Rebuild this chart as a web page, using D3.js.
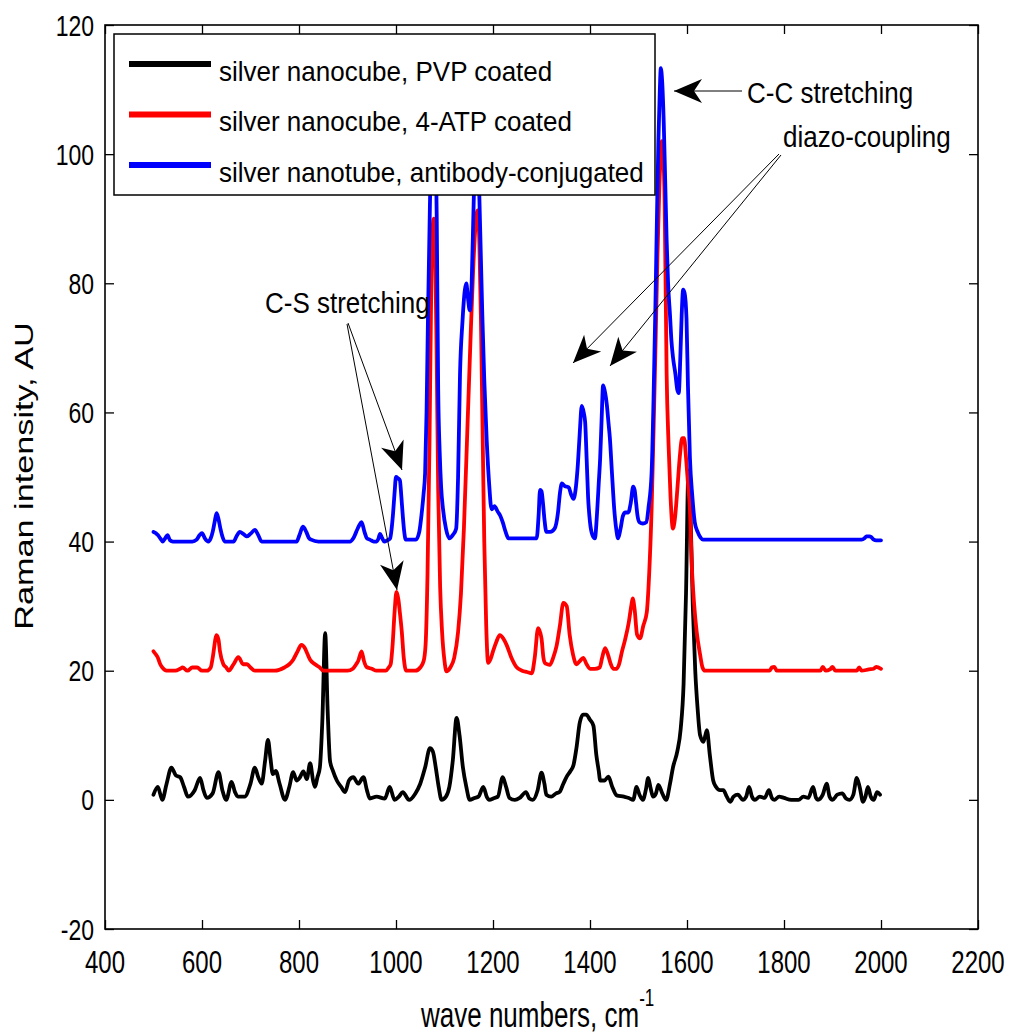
<!DOCTYPE html>
<html>
<head>
<meta charset="utf-8">
<script src="https://cdn.jsdelivr.net/npm/d3@7"></script>
<style>
  html, body { margin: 0; padding: 0; background: #fff; }
  svg { display: block; }
  text { font-family: "Liberation Sans", Arial, sans-serif; fill: #000; }
</style>
</head>
<body>
<svg id="chart" width="1011" height="1034"></svg>
<script>
// Raman spectra: [wave number (cm^-1), intensity (AU)]
const pvpCoated = [
  [500,0.8],[509,2],[518,0],[527,2.5],[537,5],[546,3.8],[555,3.5],[563,2],[571,0.5],[585,1.5],[596,3.4],[603,1.5],[610,0.3],[622,1],[634,4.3],[642,1.5],[650,0],[661,2.8],[668,1.2],[674,0.5],[688,0.5],[700,2.5],[709,5],[716,3.5],[723,2.5],[730,6],[736,9.3],[741,6.5],[746,4],[752,4.5],[760,2.5],[771,0],[780,2],[788,4.3],[795,3],[802,3.5],[809,4.4],[816,3.2],[823,5.7],[829,3],[833,2],[838,3.5],[843,5],[848,12],[854,25.8],[859,14],[864,6],[870,4.5],[878,3],[887,2],[895,1.2],[903,3],[912,3.5],[922,2.5],[933,3.5],[940,1.5],[946,0.2],[960,0.5],[977,0.2],[987,2],[997,0],[1006,0.5],[1014,1.2],[1027,0],[1040,1],[1050,2.5],[1060,5],[1070,8],[1076,7.5],[1082,5],[1088,2],[1094,0],[1103,0.5],[1110,2],[1117,6],[1125,12.7],[1131,10],[1138,5],[1145,2],[1152,0],[1162,0.3],[1170,0.5],[1180,2],[1187,0.5],[1192,0],[1203,0.3],[1210,0.5],[1220,3.5],[1227,2],[1234,0.3],[1245,0],[1255,0.3],[1268,1.2],[1275,0.2],[1282,0],[1292,1.5],[1300,4.2],[1306,2.5],[1310,0.8],[1320,0.5],[1330,1],[1337,1.2],[1345,2.5],[1352,3.6],[1360,4.5],[1366,5.4],[1372,8],[1379,12],[1386,13.2],[1392,13.2],[1400,12.4],[1407,11.5],[1413,7],[1418,4.5],[1421,3],[1430,3],[1438,3.6],[1446,2],[1455,0.7],[1470,0.5],[1480,0.3],[1489,0],[1496,2],[1502,0.8],[1509,0],[1515,1.5],[1520,3.4],[1525,1.8],[1530,0.5],[1536,1],[1541,2.3],[1549,1],[1557,0],[1565,2.5],[1571,5],[1580,7.5],[1587,11],[1593,18],[1598,32],[1603,51],[1607,45],[1612,30],[1617,20],[1622,14],[1627,10],[1634,9],[1641,10.8],[1647,7],[1654,3],[1660,2],[1668,1.5],[1675,1.5],[1682,0.5],[1689,-0.3],[1696,0.5],[1705,0.8],[1715,0],[1722,0.5],[1728,2],[1734,0.5],[1740,0],[1750,0.5],[1760,0.3],[1769,1.5],[1775,0.3],[1780,0],[1790,0.5],[1800,0.3],[1815,0],[1830,0],[1840,0.5],[1850,0.3],[1860,2],[1866,0.3],[1870,0],[1880,0.8],[1888,2.5],[1894,0.5],[1900,0],[1910,0.8],[1920,1],[1928,0.2],[1935,0],[1943,0.8],[1950,3.4],[1956,2],[1963,-0.3],[1968,0.5],[1973,2],[1979,0.5],[1985,0],[1992,1.2],[1998,0.8]
];

const atpCoated = [
  [500,23],[505,22.5],[509,22],[514,21],[518,20.5],[527,20],[545,20],[555,20.3],[560,20.5],[570,20],[580,20.5],[590,20.5],[600,20],[610,20],[618,20.5],[622,22],[630,25.5],[634,24.8],[637,23],[644,21],[650,20.5],[655,20],[665,21],[675,22.1],[685,21],[693,21],[700,20.5],[709,20],[720,20],[750,20],[770,20.5],[780,21],[788,21.7],[797,23],[805,24],[812,23.5],[818,22.5],[823,21.7],[833,21],[843,20.5],[850,20],[860,20],[880,20],[900,20],[911,20.3],[918,21],[922,21.5],[929,23],[934,21.5],[939,20.6],[950,20.3],[960,20],[970,20],[979,20],[985,20.5],[989,21],[993,24],[997,29],[1001,32.2],[1005,31],[1008,29],[1012,26],[1016,22],[1021,20],[1030,20],[1040,20],[1050,20.5],[1057,21.5],[1061,24],[1065,35],[1069,55],[1072,75],[1075,88],[1078,90],[1081,84],[1084,68],[1087,48],[1091,33],[1095,26],[1100,21.5],[1104,19.9],[1112,20.5],[1120,22],[1128,26],[1134,32],[1140,42],[1147,57],[1153,70],[1159,82],[1164,89],[1168,91.3],[1172,86],[1175,75],[1178,60],[1182,40],[1186,27],[1190,21.2],[1195,21.8],[1200,23],[1207,24.5],[1214,25.5],[1221,25],[1228,24],[1238,22],[1248,20.6],[1260,20],[1270,19.8],[1280,19.6],[1286,22],[1293,26.6],[1300,25],[1304,22],[1307,21.2],[1312,21],[1317,20.9],[1324,22],[1331,23.8],[1338,27],[1345,30.5],[1352,30],[1358,25.6],[1365,22.5],[1372,21],[1379,21.5],[1386,22],[1393,21],[1400,20.3],[1410,20.3],[1420,20.5],[1425,22],[1431,23.5],[1437,22.5],[1443,21],[1448,20.3],[1455,20.3],[1460,21],[1466,23],[1472,24.7],[1480,27.5],[1485,30],[1488,31.2],[1492,29.5],[1497,25.6],[1503,25],[1510,27],[1517,29],[1522,35],[1527,45],[1531,57],[1535,70],[1539,84],[1543,95],[1546,100],[1548,102],[1551,100],[1554,92],[1558,66],[1562,55],[1566,47],[1571,42],[1575,43.5],[1580,48],[1585,53],[1590,56],[1594,56],[1598,53],[1602,49],[1606,45],[1610,36],[1615,30],[1620,26],[1627,22.5],[1632,20.5],[1637,20],[1650,20],[1700,20],[1740,20],[1770,20],[1775,20.5],[1780,20.6],[1785,20],[1830,20],[1875,20],[1880,20.6],[1886,20],[1895,20.2],[1900,20.6],[1906,20],[1930,20],[1950,20],[1955,20.5],[1960,20],[1975,20.2],[1985,20.3],[1990,20.6],[2000,20.3]
];

const antibodyConj = [
  [500,41.5],[505,41.3],[509,41],[514,40.5],[519,40],[524,40.5],[529,41],[534,40.2],[540,40],[560,40],[580,40],[589,40.3],[595,41],[600,41.3],[606,40.5],[613,40],[618,40.5],[622,41.5],[626,43],[630,44.4],[634,43.5],[638,42],[642,40.8],[647,40],[655,40],[665,40],[671,40.8],[678,41.5],[685,41.2],[692,40.8],[700,41.2],[709,41.8],[716,41],[723,40],[740,40],[760,40],[780,40],[795,40],[801,41],[808,42.3],[815,41.5],[820,40.6],[825,40.3],[840,40],[870,40],[905,40],[912,40.5],[918,41.5],[924,42.5],[929,43],[935,41.5],[940,40.5],[946,40.3],[954,40],[960,40],[964,40.5],[967,41.2],[971,40.6],[976,40],[982,40.2],[988,40.5],[991,42],[994,44.4],[997,47.5],[1000,50],[1004,49.8],[1008,49.5],[1011,47],[1014,44],[1017,41.5],[1020,40.3],[1030,40.3],[1041,40.3],[1048,41.5],[1053,44.4],[1057,47.5],[1060,50.6],[1063,60],[1066,75],[1069,88],[1072,100],[1075,105],[1078,106],[1081,102],[1084,90],[1087,63.5],[1090,54],[1093,48.5],[1097,45],[1103,42],[1110,40.5],[1117,41],[1124,42],[1128,50],[1132,66],[1137,74],[1142,79],[1145,80],[1148,78],[1152,75.8],[1156,80],[1160,92],[1163,100],[1166,103],[1169,101],[1172,93],[1175,84],[1178,75],[1182,65],[1187,55.7],[1192,49],[1197,45],[1203,45.5],[1210,44.6],[1215,44],[1220,43],[1226,41.5],[1232,40.5],[1250,40.5],[1270,40.5],[1290,40.5],[1294,44],[1297,48],[1300,47.8],[1303,46],[1306,43.5],[1310,41.5],[1318,41.5],[1327,42],[1334,44.5],[1338,47.5],[1342,49],[1348,48.6],[1356,48.4],[1361,47.3],[1366,46.6],[1371,48.5],[1375,52],[1379,57],[1383,61],[1387,60],[1390,58.5],[1393,53],[1396,47],[1400,43],[1405,41],[1410,40.5],[1415,45],[1418,49],[1421,53],[1424,59],[1427,64.2],[1430,63.5],[1435,61],[1438,58.5],[1441,56],[1445,51],[1450,45],[1454,42],[1458,40.5],[1463,42],[1468,44],[1473,44.5],[1479,44.5],[1484,46],[1489,48.5],[1492,48],[1495,46],[1498,44],[1502,43],[1509,42.8],[1516,43],[1521,45.5],[1527,50.6],[1531,62],[1535,77],[1538,90],[1541,102],[1544,110],[1546,113.3],[1549,111],[1552,105],[1555,96],[1558,86.7],[1561,80],[1565,75],[1568,71],[1571,68.6],[1576,66],[1580,63.5],[1583,63],[1586,68],[1589,75],[1592,79],[1595,78.5],[1599,74.5],[1602,64],[1606,53],[1611,47],[1616,43],[1622,41.5],[1628,40.6],[1633,40.3],[1700,40.3],[1800,40.3],[1900,40.3],[1960,40.3],[1966,40.5],[1970,40.8],[1976,40.8],[1980,40.7],[1985,40.3],[1990,40.2],[2000,40.2]
];

const seriesLabels = [
  "silver nanocube, PVP coated",
  "silver nanocube, 4-ATP coated",
  "silver nanotube, antibody-conjugated"
];
const seriesColors = ["#000000", "#ff0000", "#0000ff"];
const xTickValues = [400, 600, 800, 1000, 1200, 1400, 1600, 1800, 2000, 2200];
const yTickValues = [-20, 0, 20, 40, 60, 80, 100, 120];

const svg = d3.select("#chart");
const plot = { left: 105, right: 978, top: 25, bottom: 929 };

const x = d3.scaleLinear().domain([400, 2200]).range([plot.left, plot.right]);
const y = d3.scaleLinear().domain([-20, 120]).range([plot.bottom, plot.top]);

// stretched text helper (tall, narrow rendering)
function label(g, str, px, py, size, sy, anchor) {
  return g.append("text")
    .attr("transform", `translate(${px},${py}) scale(1,${sy})`)
    .attr("font-size", size)
    .attr("text-anchor", anchor || "start")
    .text(str);
}

// spectra
const line = d3.line().curve(d3.curveMonotoneX).x(d => x(d[0])).y(d => y(d[1]));
const seriesData = [pvpCoated, atpCoated, antibodyConj];
const spectra = svg.append("g");
seriesData.forEach((data, i) => {
  spectra.append("path")
    .datum(data)
    .attr("d", line)
    .attr("fill", "none")
    .attr("stroke", seriesColors[i])
    .attr("stroke-width", 3.8)
    .attr("stroke-linejoin", "round")
    .attr("stroke-linecap", "round");
});

// axes box with inward ticks on all sides
const axes = svg.append("g");
const tickLen = 9;
axes.append("g").attr("transform", `translate(0,${plot.bottom})`)
  .call(d3.axisBottom(x).tickValues(xTickValues).tickSize(-tickLen).tickFormat(""))
  .call(g => g.select(".domain").remove());
axes.append("g").attr("transform", `translate(0,${plot.top})`)
  .call(d3.axisTop(x).tickValues(xTickValues).tickSize(-tickLen).tickFormat(""))
  .call(g => g.select(".domain").remove());
axes.append("g").attr("transform", `translate(${plot.left},0)`)
  .call(d3.axisLeft(y).tickValues(yTickValues).tickSize(-tickLen).tickFormat(""))
  .call(g => g.select(".domain").remove());
axes.append("g").attr("transform", `translate(${plot.right},0)`)
  .call(d3.axisRight(y).tickValues(yTickValues).tickSize(-tickLen).tickFormat(""))
  .call(g => g.select(".domain").remove());
axes.selectAll(".tick line").attr("stroke", "#000").attr("stroke-width", 1.3);
axes.append("rect")
  .attr("x", plot.left).attr("y", plot.top)
  .attr("width", plot.right - plot.left).attr("height", plot.bottom - plot.top)
  .attr("fill", "none").attr("stroke", "#000").attr("stroke-width", 1.6);

// tick labels
const tickLabels = svg.append("g");
xTickValues.forEach(v => label(tickLabels, String(v), x(v), 973, 24, 1.3, "middle"));
yTickValues.forEach(v => label(tickLabels, String(v), 94, y(v) + 10.5, 23, 1.3, "end"));

// axis titles
const xt = label(svg, "", 421, 1027, 26, 1.38, "start");
xt.append("tspan").text("wave numbers, cm");
xt.append("tspan").attr("font-size", 17).attr("dy", -15).text("-1");
svg.append("text")
  .attr("transform", "translate(33,476) rotate(-90) scale(1.37,1)")
  .attr("font-size", 25)
  .attr("text-anchor", "middle")
  .text("Raman intensity, AU");

// legend
const legend = svg.append("g");
legend.append("rect")
  .attr("x", 114).attr("y", 34).attr("width", 541).attr("height", 161)
  .attr("fill", "#fff").attr("stroke", "#000").attr("stroke-width", 1.5);
seriesLabels.forEach((t, i) => {
  const ly = 64 + i * 50.5;
  legend.append("line")
    .attr("x1", 129).attr("x2", 211).attr("y1", ly).attr("y2", ly)
    .attr("stroke", seriesColors[i]).attr("stroke-width", 6);
  label(legend, t, 219, ly + 16.5, 26, 1.08, "start");
});

// annotations
const notes = svg.append("g");
function arrowHead(tipX, tipY, fromX, fromY) {
  const ang = Math.atan2(tipY - fromY, tipX - fromX) * 180 / Math.PI;
  const L = 28, W = 24, N = 20;
  notes.append("path")
    .attr("d", `M0,0 L${-L},${-W / 2} L${-N},0 L${-L},${W / 2} Z`)
    .attr("transform", `translate(${tipX},${tipY}) rotate(${ang})`)
    .attr("fill", "#000");
}
function arrow(x1, y1, x2, y2) {
  notes.append("line")
    .attr("x1", x1).attr("y1", y1).attr("x2", x2).attr("y2", y2)
    .attr("stroke", "#000").attr("stroke-width", 1);
  arrowHead(x2, y2, x1, y1);
}

label(notes, "C-C stretching", 747, 103, 26, 1.12, "start");
arrow(742, 91, 674, 91);

label(notes, "diazo-coupling", 783, 147, 26, 1.12, "start");
arrow(779, 154, 573, 363);
arrow(781, 155, 610, 366);

label(notes, "C-S stretching", 265, 313, 26, 1.12, "start");
arrow(348, 323, 402, 470);
arrow(347, 324, 397, 590);
</script>
</body>
</html>
